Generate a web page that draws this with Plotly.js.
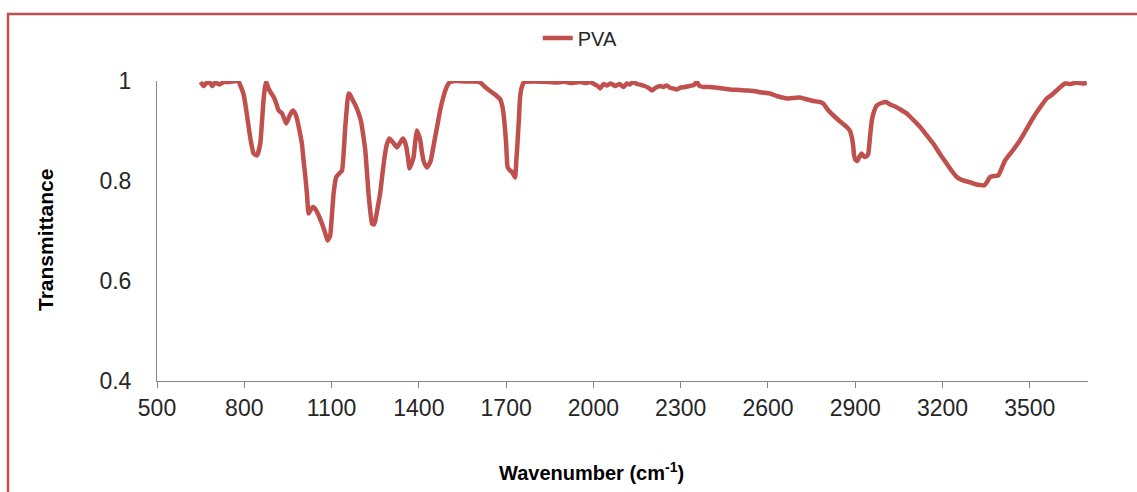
<!DOCTYPE html>
<html>
<head>
<meta charset="utf-8">
<script src="https://cdn.plot.ly/plotly-3.0.1.min.js"></script>
<style>
  html, body { margin: 0; padding: 0; background: #fff; }
  #chart { width: 1137px; height: 492px; }
</style>
</head>
<body>
<div id="chart"></div>
<script>
const seriesName = "PVA";
const wavenumber = [650, 660, 670, 680, 690, 700, 715, 730, 750, 770, 780,
  797, 806, 815, 824, 832, 844, 855, 861, 866, 872, 876, 883, 892, 901, 910, 918, 929, 937, 944, 950, 956, 967, 975, 981, 990, 998,
  1004, 1010, 1016, 1021, 1028, 1036, 1043, 1050, 1058, 1067, 1077, 1086, 1095, 1101, 1107, 1116, 1126, 1136, 1142, 1147, 1153, 1158,
  1164, 1170, 1179, 1187, 1195, 1201, 1208, 1216, 1222, 1227, 1233, 1239, 1245, 1250, 1258, 1267, 1275, 1284, 1291, 1299, 1310, 1325,
  1335, 1345, 1352, 1357, 1363, 1368, 1375, 1382, 1388, 1393, 1399, 1405, 1410, 1416, 1422, 1428, 1434, 1441, 1448, 1456, 1465, 1473,
  1482, 1491, 1500, 1508, 1530, 1560, 1590, 1611, 1628, 1645, 1657, 1668, 1680, 1686, 1691, 1696, 1700, 1705, 1712, 1720, 1726, 1731,
  1735, 1739, 1744, 1748, 1755, 1762, 1800, 1850, 1880, 1900, 1920, 1954, 1975, 1990, 2005, 2015, 2023, 2035, 2046, 2060, 2075, 2090,
  2103, 2115, 2125, 2137, 2150, 2165, 2175, 2184, 2193, 2201, 2215, 2230, 2240, 2252, 2265, 2275, 2287, 2300, 2315, 2330, 2345, 2355,
  2365, 2378, 2400, 2420, 2445, 2470, 2500, 2525, 2550, 2580, 2607, 2630, 2650, 2665, 2690, 2710, 2735, 2756, 2779, 2790, 2808, 2825,
  2850, 2871, 2882, 2888, 2893, 2896, 2901, 2907, 2914, 2922, 2928, 2934, 2940, 2945, 2951, 2957, 2965, 2974, 2990, 3006, 3020, 3037,
  3055, 3077, 3100, 3123, 3145, 3168, 3190, 3214, 3232, 3249, 3263, 3277, 3297, 3317, 3330, 3343, 3353, 3363, 3378, 3392, 3403, 3415,
  3440, 3466, 3490, 3512, 3535, 3558, 3575, 3592, 3605, 3621, 3640, 3660, 3680, 3696];
const transmittance = [0.998, 0.99, 0.996, 0.998, 0.99, 0.997, 0.993, 0.998, 0.998, 1.0, 0.999,
  0.975, 0.945, 0.908, 0.875, 0.855, 0.851, 0.875, 0.92, 0.961, 0.99, 0.998, 0.985, 0.976, 0.968, 0.955, 0.941, 0.936, 0.925, 0.915, 0.922, 0.931, 0.941, 0.935, 0.925, 0.9, 0.875,
  0.84, 0.808, 0.77, 0.735, 0.742, 0.748, 0.745, 0.738, 0.728, 0.715, 0.698, 0.681, 0.69, 0.73, 0.775, 0.808, 0.815, 0.821, 0.86, 0.908, 0.95, 0.975,
  0.972, 0.965, 0.955, 0.945, 0.932, 0.92, 0.895, 0.861, 0.815, 0.775, 0.74, 0.715, 0.713, 0.72, 0.745, 0.775, 0.815, 0.855, 0.875, 0.885, 0.878, 0.867,
  0.876, 0.885, 0.878, 0.868, 0.845, 0.825, 0.835, 0.848, 0.88, 0.901, 0.893, 0.881, 0.86, 0.841, 0.832, 0.827, 0.832, 0.841, 0.862, 0.888, 0.915, 0.941,
  0.963, 0.981, 0.993, 0.998, 1.0, 0.999, 0.999, 0.997, 0.988, 0.98, 0.975, 0.97, 0.963, 0.952, 0.935, 0.905, 0.875, 0.828, 0.822, 0.818, 0.812, 0.807,
  0.84, 0.875, 0.925, 0.968, 0.99, 0.998, 0.999, 0.998, 0.997, 0.999, 0.996, 0.998, 0.996, 0.998, 0.993, 0.99, 0.985, 0.994, 0.991, 0.995, 0.99, 0.994,
  0.988, 0.995, 0.993, 0.998, 0.994, 0.992, 0.99, 0.988, 0.985, 0.981, 0.987, 0.99, 0.988, 0.991, 0.986, 0.985, 0.983, 0.987, 0.988, 0.99, 0.992, 0.998,
  0.99, 0.988, 0.988, 0.987, 0.985, 0.983, 0.982, 0.981, 0.98, 0.977, 0.975, 0.97, 0.967, 0.965, 0.966, 0.967, 0.963, 0.96, 0.958, 0.955, 0.941, 0.931,
  0.918, 0.908, 0.9, 0.888, 0.87, 0.851, 0.842, 0.84, 0.848, 0.855, 0.85, 0.848, 0.85, 0.855, 0.89, 0.921, 0.94, 0.951, 0.956, 0.958, 0.953, 0.949,
  0.943, 0.935, 0.922, 0.908, 0.892, 0.875, 0.855, 0.835, 0.82, 0.808, 0.803, 0.8, 0.797, 0.793, 0.792, 0.791, 0.798, 0.808, 0.81, 0.811, 0.825, 0.841,
  0.86, 0.881, 0.905, 0.927, 0.947, 0.965, 0.972, 0.981, 0.988, 0.995, 0.994, 0.997, 0.995, 0.996];
const xTitle = "Wavenumber (cm<sup>-1</sup>)";
const yTitle = "Transmittance";

const lineColor = "#C0504D";
const font = "Liberation Sans, Arial, sans-serif";

const trace = {
  x: wavenumber, y: transmittance, type: "scatter", mode: "lines", name: seriesName,
  line: { color: lineColor, width: 4.5, shape: "spline", smoothing: 0.4 }
};

const layout = {
  width: 1137, height: 492,
  margin: { l: 157, r: 49, t: 81, b: 111 },
  paper_bgcolor: "#ffffff", plot_bgcolor: "#ffffff",
  font: { family: font, color: "#262626" },
  showlegend: true,
  legend: {
    orientation: "h", x: 0.409, xanchor: "left", y: 1.143, yanchor: "middle",
    font: { family: font, size: 20, color: "#262626" }, bgcolor: "rgba(0,0,0,0)"
  },
  xaxis: {
    range: [500, 3700], tick0: 500, dtick: 300, tickmode: "linear",
    showgrid: false, zeroline: false, showline: true, linecolor: "#868686", linewidth: 1,
    ticks: "outside", ticklen: 6, tickcolor: "#868686",
    tickfont: { family: font, size: 23, color: "#262626" }
  },
  yaxis: {
    range: [0.4, 1], tick0: 0.4, dtick: 0.2, tickmode: "linear",
    showgrid: false, zeroline: false, showline: true, linecolor: "#868686", linewidth: 1,
    ticks: "", ticklabelstandoff: 20,
    tickfont: { family: font, size: 23, color: "#262626" }
  },
  annotations: [
    { text: xTitle, xref: "paper", yref: "paper", x: (591 - 157) / 931, y: (381 - 472) / 300,
      xanchor: "center", yanchor: "middle", showarrow: false,
      font: { family: font, size: 20, color: "#000000", weight: "bold" } },
    { text: yTitle, xref: "paper", yref: "paper", x: (45 - 157) / 931, y: (381 - 240) / 300,
      xanchor: "center", yanchor: "middle", showarrow: false, textangle: -90,
      font: { family: font, size: 21, color: "#000000", weight: "bold" } }
  ],
  shapes: [
    { type: "rect", xref: "paper", yref: "paper",
      x0: (8 - 157) / 931, x1: 1.3, y0: -0.8, y1: (381 - 14) / 300,
      line: { color: lineColor, width: 2.5 }, fillcolor: "rgba(0,0,0,0)", layer: "below" }
  ]
};

Plotly.newPlot("chart", [trace], layout, { staticPlot: true, displayModeBar: false });
</script>
</body>
</html>
